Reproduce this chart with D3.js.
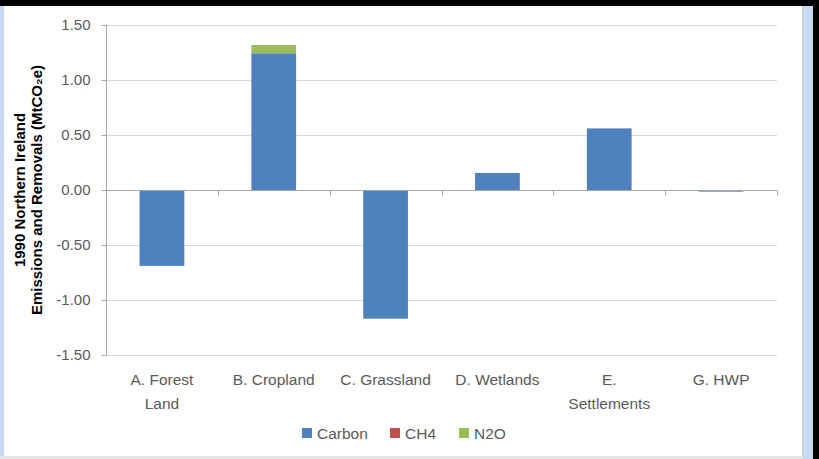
<!DOCTYPE html>
<html><head><meta charset="utf-8">
<script src="https://cdn.jsdelivr.net/npm/d3@7"></script>
<style>body{margin:0;background:#fff}svg{display:block}text{font-family:"Liberation Sans",Arial,sans-serif}</style>
</head><body><svg id="c" width="819" height="459"></svg>
<script>
const categories = ["A. Forest Land","B. Cropland","C. Grassland","D. Wetlands","E. Settlements","G. HWP"];
const categoryLines = [["A. Forest","Land"],["B. Cropland"],["C. Grassland"],["D. Wetlands"],["E.","Settlements"],["G. HWP"]];
const carbon = [-0.69, 1.243, -1.17, 0.155, 0.56, -0.015];
const ch4 = [0, 0, 0, 0, 0, 0];
const n2o = [0, 0.075, 0, 0, 0, 0];
const seriesNames = ["Carbon","CH4","N2O"];
const seriesColors = ["#4F81BD","#C0504D","#9BBB59"];
const yTicks = [-1.5,-1.0,-0.5,0,0.5,1.0,1.5];
const yTitle = ["1990 Northern Ireland","Emissions and Removals (MtCO\u2082e)"];

const svg = d3.select("#c");
// frame
svg.append("rect").attr("x",0).attr("y",0).attr("width",819).attr("height",459).attr("fill","#fff");
svg.append("rect").attr("x",0).attr("y",0).attr("width",4).attr("height",459).attr("fill","#C6D9F1");
svg.append("rect").attr("x",803).attr("y",0).attr("width",10).attr("height",459).attr("fill","#C6D9F1");
svg.append("rect").attr("x",813).attr("y",0).attr("width",6).attr("height",459).attr("fill","#000");
svg.append("rect").attr("x",0).attr("y",0).attr("width",819).attr("height",6).attr("fill","#000");
svg.append("line").attr("x1",802.5).attr("x2",802.5).attr("y1",6).attr("y2",456).attr("stroke","#D0D0D0");
svg.append("rect").attr("x",0).attr("y",456).attr("width",803).attr("height",3).attr("fill","#E4E4E4");

const x = d3.scaleBand().domain(categories).range([106,777]).paddingInner(0.6).paddingOuter(0.3);
const y = d3.scaleLinear().domain([-1.5,1.5]).range([355,25]);

// gridlines
svg.append("g").selectAll("line").data(yTicks.filter(t=>t!==0)).join("line")
  .attr("x1",106).attr("x2",777).attr("y1",d=>Math.round(y(d))+0.5).attr("y2",d=>Math.round(y(d))+0.5)
  .attr("stroke","#D9D9D9").attr("stroke-width",1);

// bars
const table = categories.map((c,i)=>({cat:c, Carbon:carbon[i], CH4:ch4[i], N2O:n2o[i]}));
const stacked = d3.stack().keys(seriesNames).offset(d3.stackOffsetDiverging)(table);
svg.append("g").selectAll("g").data(stacked).join("g")
  .attr("fill",(d,i)=>seriesColors[i])
  .selectAll("rect").data(d=>d).join("rect")
  .attr("x",d=>x(d.data.cat)).attr("width",x.bandwidth())
  .attr("y",d=>y(Math.max(d[0],d[1]))).attr("height",d=>Math.abs(y(d[0])-y(d[1])));

// y axis
const fmt = v => d3.format(".2f")(v).replace("\u2212","-");
const yAxis = d3.axisLeft(y).tickValues(yTicks).tickSize(5).tickPadding(8).tickFormat(fmt);
const ga = svg.append("g").attr("transform","translate(106.5,0)").call(yAxis);
ga.select(".domain").attr("stroke","#A6A6A6").attr("d","M0,25V355");
ga.selectAll(".tick line").attr("stroke","#A6A6A6").attr("x1",-5).attr("x2",0);
ga.selectAll(".tick text").attr("fill","#595959").style("font-size","15px").attr("x",-16);

// x axis at zero
const gx = svg.append("g").attr("transform",`translate(0,${Math.round(y(0))+0.5})`);
gx.append("line").attr("x1",106).attr("x2",777).attr("stroke","#A6A6A6");
gx.selectAll(".bt").data(d3.range(categories.length+1)).join("line").attr("class","bt")
  .attr("x1",i=>Math.round(x.range()[0]+i*(x.range()[1]-x.range()[0])/categories.length)+0.5)
  .attr("x2",i=>Math.round(x.range()[0]+i*(x.range()[1]-x.range()[0])/categories.length)+0.5)
  .attr("y1",0).attr("y2",5).attr("stroke","#A6A6A6");

// category labels
const lab = svg.append("g");
categories.forEach((c,i)=>{
  const t = lab.append("text").attr("text-anchor","middle").attr("fill","#595959").style("font-size","15.5px")
    .attr("x",x(c)+x.bandwidth()/2).attr("y",385);
  categoryLines[i].forEach((s,j)=>t.append("tspan").attr("x",x(c)+x.bandwidth()/2).attr("dy",j===0?0:24).text(s));
});

// y title
const yt = svg.append("text").attr("transform","translate(25,190) rotate(-90)").attr("text-anchor","middle")
  .attr("fill","#000").style("font-size","15px").style("font-weight","bold");
yTitle.forEach((s,j)=>yt.append("tspan").attr("x",0).attr("dy",j===0?0:17).text(s));

// legend
const leg = svg.append("g");
const legX = [302, 390, 459];
seriesNames.forEach((s,i)=>{
  leg.append("rect").attr("x",legX[i]).attr("y",428).attr("width",10).attr("height",10).attr("fill",seriesColors[i]);
  leg.append("text").attr("x",legX[i]+15).attr("y",439).attr("fill","#595959").style("font-size","15.5px").text(s);
});
</script></body></html>
